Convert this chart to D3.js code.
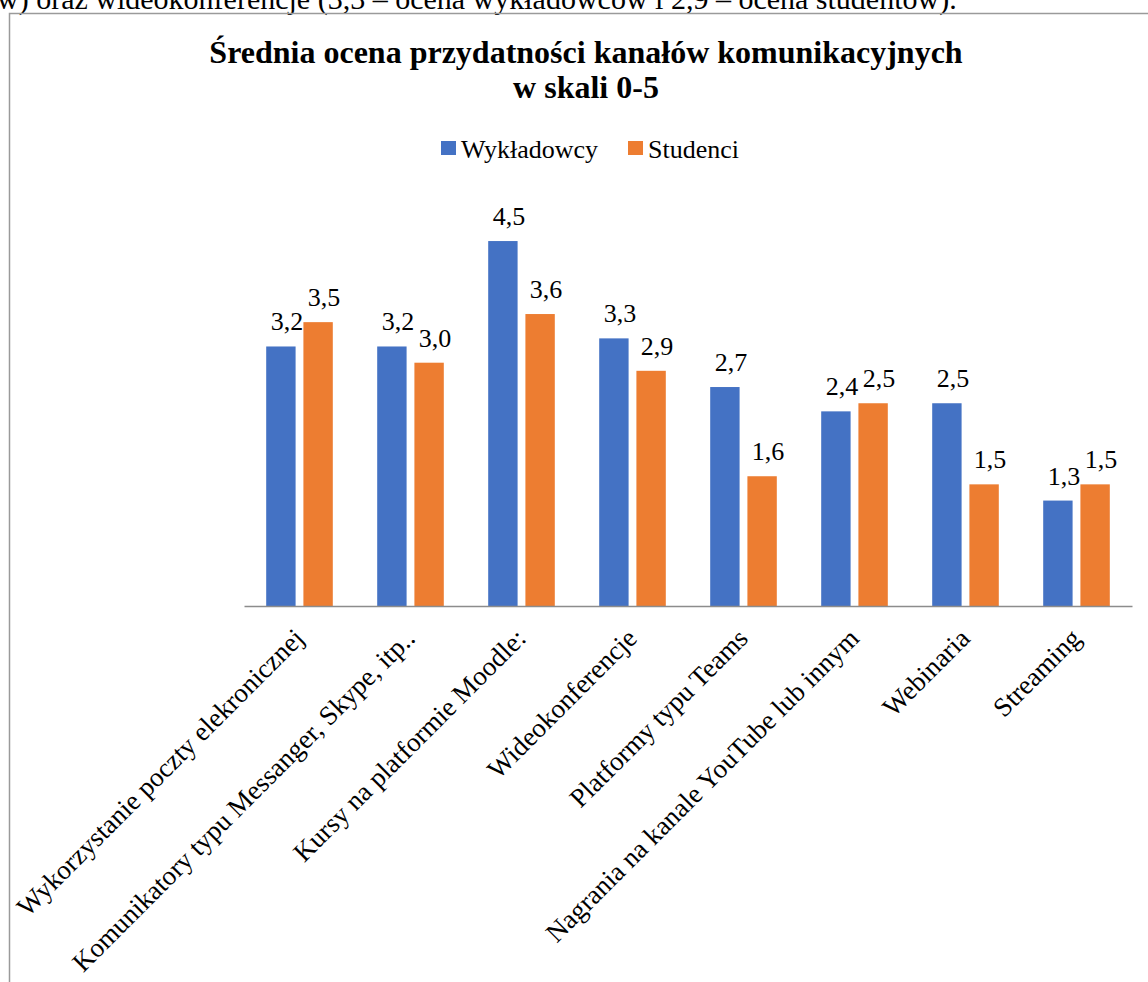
<!DOCTYPE html>
<html>
<head>
<meta charset="utf-8">
<script src="https://cdn.jsdelivr.net/npm/d3@7"></script>
<style>
  body { margin: 0; background: #fff; }
</style>
</head>
<body>
<div id="chart"></div>
<script>
const categories = [
  "Wykorzystanie poczty elekronicznej",
  "Komunikatory typu Messanger, Skype, itp..",
  "Kursy na platformie Moodle:",
  "Wideokonferencje",
  "Platformy typu Teams",
  "Nagrania na kanale YouTube lub innym",
  "Webinaria",
  "Streaming"
]
const series = ["Wykładowcy", "Studenci"]
const wykladowcy = [3.2, 3.2, 4.5, 3.3, 2.7, 2.4, 2.5, 1.3]
const studenci = [3.5, 3.0, 3.6, 2.9, 1.6, 2.5, 1.5, 1.5]
const colors = ["#4472C4", "#ED7D31"]

const title = ["Średnia ocena przydatności kanałów komunikacyjnych", "w skali 0-5"]
const prevText = "w) oraz wideokonferencje (3,3 – ocena wykładowców i 2,9 – ocena studentów)."

const FONT = "'Liberation Serif', 'DejaVu Serif', serif"
const W = 1148, H = 982
const svg = d3.select("#chart").append("svg")
  .attr("width", W)
  .attr("height", H)
  .attr("font-family", FONT)

// piece of the document text above the chart (cut by the page edge)
svg.append("text")
  .attr("x", -3)
  .attr("y", 9)
  .attr("font-family", FONT)
  .style("font-size", "30px")
  .text(prevText)

// chart frame
svg.append("rect")
  .attr("x", 9.5)
  .attr("y", 13.5)
  .attr("width", 1170)
  .attr("height", 1000)
  .attr("fill", "none")
  .attr("stroke", "#9a9a9a")
  .attr("stroke-width", 1.5)

const t = svg.append("text")
  .attr("text-anchor", "middle")
  .attr("font-family", FONT)
  .style("font-size", "32px")
  .style("font-weight", "bold")
t.append("tspan").attr("x", 586).attr("y", 63).text(title[0])
t.append("tspan").attr("x", 586).attr("y", 98).text(title[1])

// legend
const legendX = [441, 628]
series.forEach((s, i) => {
  svg.append("rect")
    .attr("x", legendX[i])
    .attr("y", 141)
    .attr("width", 15)
    .attr("height", 14)
    .attr("fill", colors[i])
  svg.append("text")
    .attr("x", legendX[i] + 20)
    .attr("y", 158)
    .attr("font-family", FONT)
    .style("font-size", "26px")
    .text(s)
})

const x0 = d3.scaleBand()
  .domain(categories)
  .range([244, 1132])
  .paddingInner(0.4)
  .paddingOuter(0.2)

const x1 = d3.scaleBand()
  .domain(series)
  .range([0, x0.bandwidth()])
  .paddingInner(0.21)

const y = d3.scaleLinear()
  .domain([0, 5])
  .range([606, 200.5])

const rows = categories.map((c, i) => ({
  cat: c,
  vals: [
    {key: series[0], v: wykladowcy[i], color: colors[0]},
    {key: series[1], v: studenci[i], color: colors[1]}
  ]
}))

const fmt = v => d3.format(".1f")(v).replace(".", ",")

const groups = svg.selectAll("g.grp")
  .data(rows)
  .join("g")
  .attr("class", "grp")
  .attr("transform", d => `translate(${x0(d.cat)},0)`)

groups.selectAll("rect")
  .data(d => d.vals)
  .join("rect")
  .attr("x", d => x1(d.key))
  .attr("y", d => y(d.v))
  .attr("width", x1.bandwidth())
  .attr("height", d => y(0) - y(d.v))
  .attr("fill", d => d.color)

groups.selectAll("text")
  .data(d => d.vals)
  .join("text")
  .attr("x", d => x1(d.key) + x1.bandwidth() / 2 + 6)
  .attr("y", d => y(d.v) - 16)
  .attr("text-anchor", "middle")
  .attr("font-family", FONT)
  .style("font-size", "26px")
  .text(d => fmt(d.v))

// category axis
const xAxis = svg.append("g")
  .attr("transform", `translate(0,${y(0)})`)
  .call(d3.axisBottom(x0).tickSize(0).tickPadding(0))
  .attr("font-family", FONT)
  .attr("font-size", 27)
xAxis.select(".domain")
  .attr("stroke", "#8c8c8c")
  .attr("stroke-width", 1.5)
xAxis.selectAll(".tick text")
  .attr("fill", "#000")
  .attr("text-anchor", "end")
  .attr("dy", null)
  .attr("y", 0)
  .attr("transform", "translate(6,34) rotate(-45)")
</script>
</body>
</html>
